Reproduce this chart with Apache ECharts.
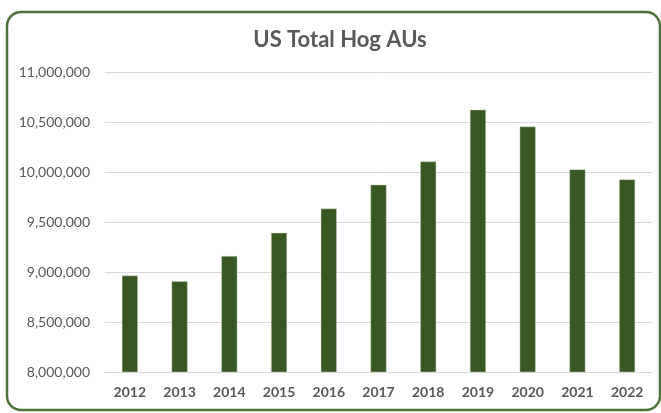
<!DOCTYPE html>
<html>
<head>
<meta charset="utf-8">
<script src="https://cdn.jsdelivr.net/npm/echarts@6/dist/echarts.min.js"></script>
<style>
  html, body { margin: 0; padding: 0; background: #ffffff; }
  #hog-bar { width: 661px; height: 413px; }
</style>
</head>
<body>
<div id="hog-bar"></div>
<script>
// US total hog animal units, 2012-2022
var years = ['2012', '2013', '2014', '2015', '2016', '2017', '2018', '2019', '2020', '2021', '2022'];
var hogAUs = [8964000, 8907000, 9160000, 9392000, 9634000, 9873000, 10105000, 10623000, 10454000, 10026000, 9926000];
var yMin = 8000000;
var yMax = 11000000;
var yStep = 500000;

var hogChart = echarts.init(document.getElementById('hog-bar'));
var hogOption = {
    animation: false,
    title: {
        text: 'US Total Hog AUs',
        left: 335,
        textAlign: 'center',
        top: 24,
        textStyle: {
            color: '#595959',
            fontFamily: 'Lato',
            fontWeight: 'bold',
            fontSize: 22
        }
    },
    graphic: [{
        type: 'rect',
        shape: { x: 7, y: 12, width: 653, height: 398, r: 14 },
        style: {
            fill: 'none',
            stroke: '#4e7238',
            lineWidth: 2.5
        },
        z: 10
    }],
    grid: {
        left: 105,
        right: 9,
        top: 72,
        bottom: 41
    },
    xAxis: {
        type: 'category',
        data: years,
        axisTick: { show: false },
        axisLine: {
            lineStyle: { color: '#d9d9d9', width: 1 }
        },
        axisLabel: {
            margin: 13,
            color: '#595959',
            fontFamily: 'Lato',
            fontWeight: 'bold',
            fontSize: 14
        }
    },
    yAxis: {
        type: 'value',
        min: yMin,
        max: yMax,
        interval: yStep,
        axisLine: { show: false },
        axisTick: { show: false },
        splitLine: {
            lineStyle: { color: '#d9d9d9', width: 1 }
        },
        axisLabel: {
            margin: 15,
            color: '#595959',
            fontFamily: 'Lato',
            fontSize: 14,
            formatter: function (v) {
                return v.toLocaleString('en-US');
            }
        }
    },
    series: [{
        name: 'Hog AUs',
        type: 'bar',
        data: hogAUs,
        barWidth: 16,
        itemStyle: {
            color: '#385723',
            borderColor: '#c9d3c0',
            borderWidth: 0.5
        }
    }]
};
hogChart.setOption(hogOption);
</script>
</body>
</html>
